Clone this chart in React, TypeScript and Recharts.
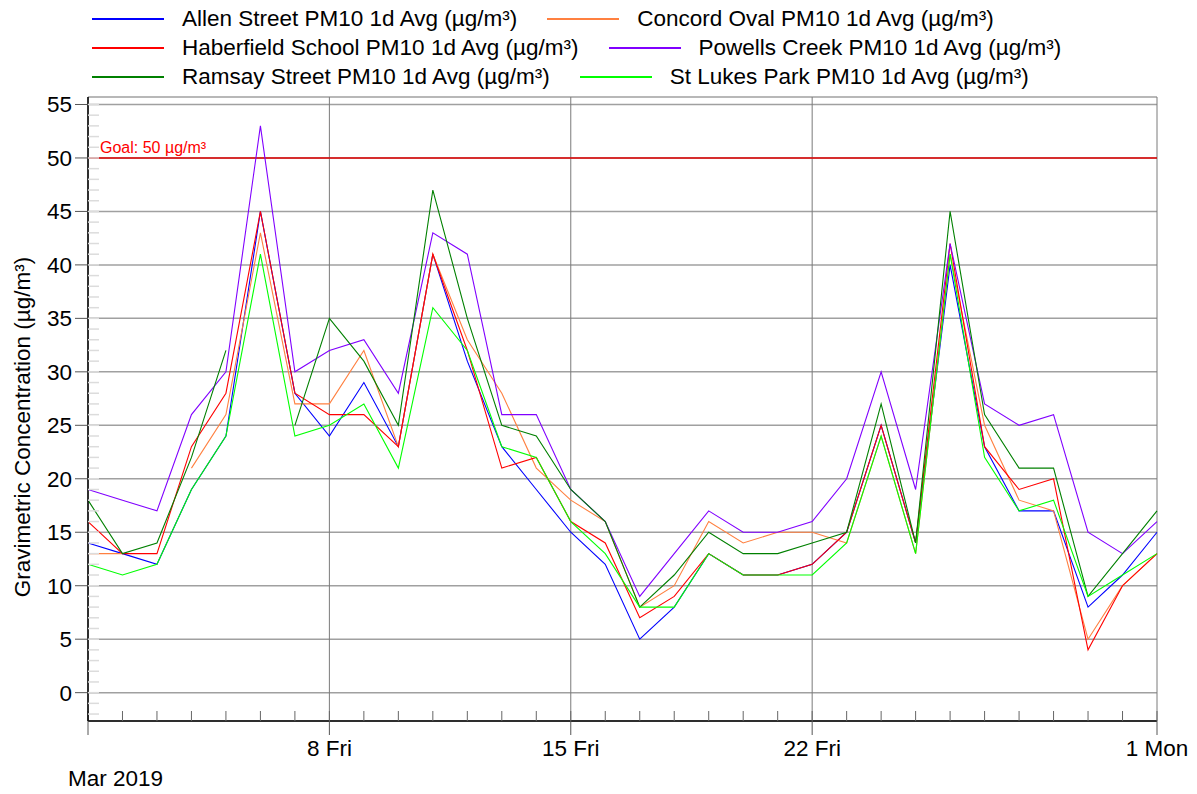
import React from "react";
import { LineChart, Line, XAxis, YAxis, CartesianGrid, ReferenceLine } from "recharts";

// Mar 1 2019 .. Apr 1 2019, daily averages
const dates = [
  "03-01", "03-02", "03-03", "03-04", "03-05", "03-06", "03-07", "03-08",
  "03-09", "03-10", "03-11", "03-12", "03-13", "03-14", "03-15", "03-16",
  "03-17", "03-18", "03-19", "03-20", "03-21", "03-22", "03-23", "03-24",
  "03-25", "03-26", "03-27", "03-28", "03-29", "03-30", "03-31", "04-01",
];

const allen = [14, 13, 12, 19, 24, 45, 28, 24, 29, 23, 41, 31, 23, 19, 15, 12, 5, 8, 13, 11, 11, 12, 15, 25, 14, 40, 23, 17, 17, 8, 11, 15];
const concord = [13, 13, null, 21, 26, 43, 27, 27, 32, 23, 41, 33, 28, 21, 18, 16, 8, 10, 16, 14, 15, 15, 14, 24, 13, 41, 25, 18, 17, 5, 10, 13];
const haberfield = [16, 13, 13, 23, 28, 45, 28, 26, 26, 23, 41, 32, 21, 22, 16, 14, 7, 9, 13, 11, 11, 12, 15, 25, 14, 42, 23, 19, 20, 4, 10, 13];
const powells = [19, 18, 17, 26, 30, 53, 30, 32, 33, 28, 43, 41, 26, 26, 19, 16, 9, 13, 17, 15, 15, 16, 20, 30, 19, 42, 27, 25, 26, 15, 13, 16];
const ramsay = [18, 13, 14, 22, 32, null, 25, 35, 31, 25, 47, 35, 25, 24, 19, 16, 8, 11, 15, 13, 13, 14, 15, 27, 14, 45, 26, 21, 21, 9, 13, 17];
const stLukes = [12, 11, 12, 19, 24, 41, 24, 25, 27, 21, 36, 32, 23, 22, 16, 13, 8, 8, 13, 11, 11, 11, 14, 24, 13, 41, 22, 17, 18, 9, 11, 13];

const tickDays = [0, 7, 14, 21, 31];
const tickLabels = ["Mar 2019", "8 Fri", "15 Fri", "22 Fri", "1 Mon"];
const yTicks = [0, 5, 10, 15, 20, 25, 30, 35, 40, 45, 50, 55];
const goal = 50;

const series = [
  { key: "allen", label: "Allen Street PM10 1d Avg (µg/m³)", color: "#0000ff" },
  { key: "concord", label: "Concord Oval PM10 1d Avg (µg/m³)", color: "#ff8040" },
  { key: "haberfield", label: "Haberfield School PM10 1d Avg (µg/m³)", color: "#ff0000" },
  { key: "powells", label: "Powells Creek PM10 1d Avg (µg/m³)", color: "#8000ff" },
  { key: "ramsay", label: "Ramsay Street PM10 1d Avg (µg/m³)", color: "#008000" },
  { key: "stLukes", label: "St Lukes Park PM10 1d Avg (µg/m³)", color: "#00ff00" },
];

const FONT = '"Liberation Sans", Arial, Helvetica, sans-serif';
const FS = 22.5;
const Y_DOMAIN: [number, number] = [-2.65, 55.7];
const minorDays = dates.map((_, i) => i);
const minorY = Array.from({ length: 58 }, (_, i) => i - 2);

const NoLabel = () => <g />;

const DateTick = ({ x, y, payload }: any) => {
  const i = tickDays.indexOf(payload.value);
  if (i === 0) {
    return (
      <text x={x - 20} y={y + 51} fontSize={FS} fontFamily={FONT} fill="#000" textAnchor="start">
        {tickLabels[0]}
      </text>
    );
  }
  return (
    <text x={x} y={y + 21} fontSize={FS} fontFamily={FONT} fill="#000" textAnchor="middle">
      {tickLabels[i]}
    </text>
  );
};

const GoalLabel = ({ viewBox }: any) => (
  <text x={viewBox.x + 12} y={viewBox.y - 5} fontSize={16} fontFamily={FONT} fill="#ff0000">
    Goal: {goal} µg/m³
  </text>
);

const YLabel = ({ viewBox }: any) => {
  const cy = viewBox.y + viewBox.height / 2 + 18;
  return (
    <text
      x={22}
      y={cy}
      dy="0.35em"
      transform={`rotate(-90, 22, ${cy})`}
      textAnchor="middle"
      fontSize={FS}
      fontFamily={FONT}
      fill="#000"
    >
      Gravimetric Concentration (µg/m³)
    </text>
  );
};

const legendRows = [
  [series[0], series[1]],
  [series[2], series[3]],
  [series[4], series[5]],
];

export default function App() {
  const data = dates.map((d, i) => ({
    t: i,
    date: d,
    allen: allen[i],
    concord: concord[i],
    haberfield: haberfield[i],
    powells: powells[i],
    ramsay: ramsay[i],
    stLukes: stLukes[i],
  }));

  return (
    <div style={{ position: "absolute", left: 0, top: 0, width: 1197, height: 794, background: "#fff", fontFamily: FONT }}>
      <div style={{ position: "absolute", left: 92, top: 4, zIndex: 2 }}>
        {legendRows.map((row, r) => (
          <div key={r} style={{ display: "flex", alignItems: "center", height: 29 }}>
            {row.map((s) => (
              <div key={s.key} style={{ display: "flex", alignItems: "center", marginRight: 30 }}>
                <span style={{ display: "inline-block", width: 72, borderTop: `2px solid ${s.color}` }} />
                <span style={{ marginLeft: 18, fontSize: FS, color: "#000", whiteSpace: "nowrap" }}>{s.label}</span>
              </div>
            ))}
          </div>
        ))}
      </div>
      <LineChart width={1197} height={794} data={data} margin={{ top: 97, right: 40, bottom: 38, left: 28 }}>
        <CartesianGrid horizontal={true} vertical={false} stroke="#a0a0a0" strokeWidth={1.5} />
        <CartesianGrid horizontal={false} vertical={true} stroke="#7a7a7a" strokeWidth={1} />
        <XAxis
          type="number"
          dataKey="t"
          domain={[0, 31]}
          ticks={tickDays}
          interval={0}
          height={35}
          tickSize={14}
          tickMargin={0}
          tick={<DateTick />}
          tickLine={{ stroke: "#555" }}
          axisLine={{ stroke: "#000", strokeWidth: 1.5 }}
        />
        <XAxis
          xAxisId="minor"
          type="number"
          dataKey="t"
          domain={[0, 31]}
          ticks={minorDays}
          interval={0}
          mirror
          height={1}
          tick={<NoLabel />}
          tickSize={10}
          tickLine={{ stroke: "#666" }}
          axisLine={false}
        />
        <XAxis
          xAxisId="top"
          orientation="top"
          type="number"
          dataKey="t"
          domain={[0, 31]}
          height={0}
          tick={false}
          tickLine={false}
          axisLine={{ stroke: "#444", strokeWidth: 2 }}
        />
        <YAxis
          type="number"
          domain={Y_DOMAIN}
          allowDataOverflow
          ticks={yTicks}
          interval={0}
          width={60}
          tickSize={13}
          tickMargin={3}
          tick={{ fill: "#000", fontSize: FS, fontFamily: FONT }}
          tickLine={{ stroke: "#555" }}
          axisLine={{ stroke: "#000", strokeWidth: 1.5 }}
          label={<YLabel />}
        />
        <YAxis
          yAxisId="minor"
          type="number"
          domain={Y_DOMAIN}
          allowDataOverflow
          ticks={minorY}
          interval={0}
          mirror
          width={1}
          tick={<NoLabel />}
          tickSize={11}
          tickLine={{ stroke: "#dcdcdc", strokeWidth: 1.5 }}
          axisLine={false}
        />
        <YAxis
          yAxisId="right"
          orientation="right"
          type="number"
          domain={Y_DOMAIN}
          allowDataOverflow
          width={0}
          tick={false}
          tickLine={false}
          axisLine={{ stroke: "#000", strokeWidth: 1.5 }}
        />
        <ReferenceLine y={goal} stroke="#e00000" strokeWidth={1.5} label={<GoalLabel />} />
        {series.map((s) => (
          <Line
            key={s.key}
            type="linear"
            dataKey={s.key}
            stroke={s.color}
            strokeWidth={1.1}
            dot={false}
            activeDot={false}
            connectNulls={false}
            isAnimationActive={false}
          />
        ))}
      </LineChart>
    </div>
  );
}
